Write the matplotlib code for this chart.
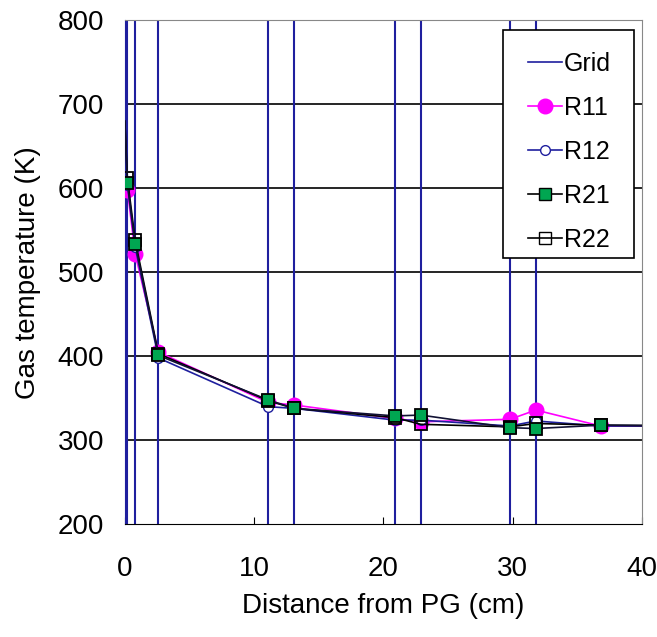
import matplotlib
matplotlib.use("Agg")
import matplotlib.pyplot as plt
from matplotlib.lines import Line2D
from matplotlib.patches import Rectangle

plt.rcParams['font.family'] = ['Liberation Sans', 'DejaVu Sans']

# Measurement grid positions (cm from PG)
grid_x = [0.0, 0.2, 0.8, 2.6, 11.1, 13.1, 20.9, 22.9, 29.8, 31.8]

# Sampling positions for each run
x_pts = [0.2, 0.8, 2.6, 11.1, 13.1, 20.9, 22.9, 29.8, 31.8, 36.8]
r11 = [598, 522, 405, 345, 342, 326, 322, 325, 336, 317]
r12 = [604, 530, 398, 340, 338, 324, 324, 317, 323, 317]
r21 = [606, 534, 401, 348, 338, 329, 330, 315, 314, 318]
r22 = [612, 538, 403, 347, 338, 327, 319, 316, 320, 318]

# Extra line points (inlet and far tail) drawn without markers
x_inlet, t_inlet = 0.0, 680
x_tail, t_tail = 45.0, 317

x_ticks = [0, 10, 20, 30, 40]
y_ticks = [200, 300, 400, 500, 600, 700, 800]

navy = '#1f1f9e'
green = '#00a651'

fig = plt.figure(figsize=(6.57, 6.37), dpi=100)
ax = fig.add_axes([0.190, 0.177, 0.787, 0.791])

ax.set_xlim(0, 40)
ax.set_ylim(200, 800)

# horizontal gridlines
for y in y_ticks[1:-1]:
    ax.axhline(y, color='black', lw=1.2, zorder=1)

# vertical grid positions
ax.vlines(grid_x, 200, 800, color=navy, lw=1.5, zorder=2)

def with_ends(vals, inlet=False, tail=True):
    xs = list(x_pts)
    ys = list(vals)
    start = 0
    if inlet:
        xs = [x_inlet] + xs
        ys = [t_inlet] + ys
        start = 1
    if tail:
        xs = xs + [x_tail]
        ys = ys + [t_tail]
    return xs, ys, slice(start, start + len(x_pts))

xs, ys, me = with_ends(r11)
ax.plot(xs, ys, color='magenta', lw=1.2, marker='o', ms=10.5,
        mfc='magenta', mec='magenta', markevery=me, zorder=4)
xs, ys, me = with_ends(r12)
ax.plot(xs, ys, color=navy, lw=1.2, marker='o', ms=7,
        mfc='white', mec=navy, markevery=me, zorder=4)
xs, ys, me = with_ends(r22, inlet=True)
ax.plot(xs, ys, color='black', lw=1.2, marker='s', ms=9,
        mfc='none', mec='black', mew=1.3, markevery=me, zorder=5)
xs, ys, me = with_ends(r21, inlet=True)
ax.plot(xs, ys, color='#111133', lw=1.2, marker='s', ms=9,
        mfc=green, mec='black', mew=1.3, markevery=me, zorder=6)

ax.set_xticks(x_ticks)
ax.set_yticks(y_ticks)
ax.tick_params(axis='both', labelsize=20, direction='in', length=5, color='black')
ax.tick_params(axis='x', pad=23)
ax.tick_params(axis='y', pad=15, length=0)

for side in ['top', 'right']:
    ax.spines[side].set_color('#888888')
ax.spines['bottom'].set_color('black')
ax.spines['left'].set_color(navy)

ax.set_xlabel('Distance from PG (cm)', fontsize=20, labelpad=8)
ax.set_ylabel('Gas temperature (K)', fontsize=20, labelpad=12)

# legend box
box = Rectangle((0.731, 0.528), 0.254, 0.453, transform=ax.transAxes,
                facecolor='white', edgecolor='black', lw=1.2, zorder=9)
ax.add_patch(box)

handles = [
    Line2D([], [], color=navy, lw=1.2),
    Line2D([], [], color='magenta', lw=1.2, marker='o', ms=10.5, mfc='magenta', mec='magenta'),
    Line2D([], [], color=navy, lw=1.2, marker='o', ms=7, mfc='white', mec=navy),
    Line2D([], [], color='black', lw=1.2, marker='s', ms=9, mfc=green, mec='black'),
    Line2D([], [], color='black', lw=1.2, marker='s', ms=9, mfc='none', mec='black'),
]
labels = ['Grid', 'R11', 'R12', 'R21', 'R22']
leg = ax.legend(handles, labels, loc='upper left', bbox_to_anchor=(0.7795, 0.938),
                fontsize=18, frameon=False, handlelength=1.35, handletextpad=0.1,
                labelspacing=0.8, borderpad=0, borderaxespad=0)
leg.set_zorder(10)

fig.savefig('out.png', dpi=100, facecolor='white')
